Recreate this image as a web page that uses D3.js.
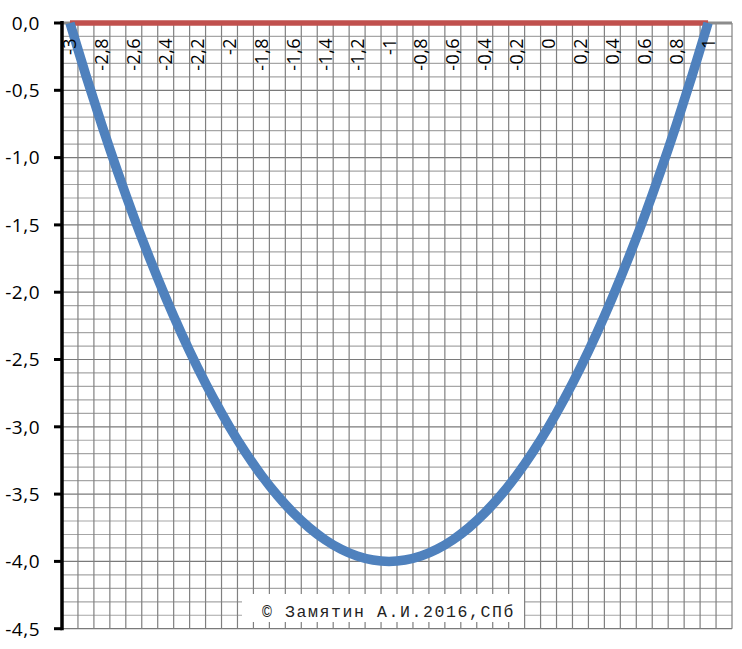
<!DOCTYPE html>
<html>
<head>
<meta charset="utf-8">
<script src="https://cdn.jsdelivr.net/npm/d3@7"></script>
<style>
  html, body { margin: 0; padding: 0; background: #ffffff; }
  svg { display: block; }
</style>
</head>
<body>
<svg id="chart" width="742" height="649"></svg>
<script>
// ---- data ----
const categories = [-3, -2.9, -2.8, -2.7, -2.6, -2.5, -2.4, -2.3, -2.2, -2.1,
  -2, -1.9, -1.8, -1.7, -1.6, -1.5, -1.4, -1.3, -1.2, -1.1,
  -1, -0.9, -0.8, -0.7, -0.6, -0.5, -0.4, -0.3, -0.2, -0.1,
  0, 0.1, 0.2, 0.3, 0.4, 0.5, 0.6, 0.7, 0.8, 0.9, 1, 1.1];
const parabolaValues = [0, -0.39, -0.76, -1.11, -1.44, -1.75, -2.04, -2.31, -2.56, -2.79,
  -3, -3.19, -3.36, -3.51, -3.64, -3.75, -3.84, -3.91, -3.96, -3.99,
  -4, -3.99, -3.96, -3.91, -3.84, -3.75, -3.64, -3.51, -3.36, -3.19,
  -3, -2.79, -2.56, -2.31, -2.04, -1.75, -1.44, -1.11, -0.76, -0.39, 0];
const zeroValues = [0, 0, 0, 0, 0, 0, 0, 0, 0, 0, 0, 0, 0, 0, 0, 0, 0, 0, 0, 0, 0,
  0, 0, 0, 0, 0, 0, 0, 0, 0, 0, 0, 0, 0, 0, 0, 0, 0, 0, 0, 0];
const xTickCats = [-3, -2.8, -2.6, -2.4, -2.2, -2, -1.8, -1.6, -1.4, -1.2, -1,
  -0.8, -0.6, -0.4, -0.2, 0, 0.2, 0.4, 0.6, 0.8, 1];
const xTickLabels = ["-3", "-2,8", "-2,6", "-2,4", "-2,2", "-2", "-1,8", "-1,6", "-1,4", "-1,2", "-1",
  "-0,8", "-0,6", "-0,4", "-0,2", "0", "0,2", "0,4", "0,6", "0,8", "1"];
const yTicks = [0, -0.5, -1, -1.5, -2, -2.5, -3, -3.5, -4, -4.5];
const yTickLabels = ["0,0", "-0,5", "-1,0", "-1,5", "-2,0", "-2,5", "-3,0", "-3,5", "-4,0", "-4,5"];
const yMinorStep = 0.1;
const watermark = "\u00A9 Замятин А.И.2016,СПб";

// ---- layout ----
const pL = 62, pR = 732, pT = 23, pB = 628.7;
const svg = d3.select("#chart");

const x = d3.scaleBand().domain(categories.map(String)).range([pL, pR]).padding(0);
const bw = x.bandwidth();
const xc = c => x(String(c)) + bw / 2;
const y = d3.scaleLinear().domain([-4.5, 0]).range([pB, pT]);

// ---- grid ----
const grid = svg.append("g");
const minorY = d3.range(0, 46).map(i => -i * yMinorStep);
grid.selectAll("line.hy").data(minorY).enter().append("line")
  .attr("x1", pL).attr("x2", pR)
  .attr("y1", d => y(d)).attr("y2", d => y(d))
  .attr("stroke", (d, i) => i % 5 === 0 ? "#7a7a7a" : "#a6a6a6")
  .attr("stroke-width", 1.2);
grid.selectAll("line.vx").data(categories).enter().append("line")
  .attr("x1", d => x(String(d)) + bw).attr("x2", d => x(String(d)) + bw)
  .attr("y1", pT).attr("y2", pB)
  .attr("stroke", "#808080")
  .attr("stroke-width", 1.2);

// watermark background
svg.append("rect").attr("x", 242).attr("y", 594).attr("width", 282).attr("height", 28)
  .attr("fill", "#ffffff");
svg.append("text").attr("x", 262).attr("y", 617)
  .attr("font-family", "'Liberation Mono', 'DejaVu Sans Mono', monospace")
  .attr("font-size", 16.5).attr("letter-spacing", 1.6)
  .attr("fill", "#222").text(watermark);

// x axis line (gray) at y=0
svg.append("line").attr("x1", pL).attr("x2", pR)
  .attr("y1", y(0)).attr("y2", y(0))
  .attr("stroke", "#8c8c8c").attr("stroke-width", 3);

// ---- series ----
const line = d3.line()
  .x((d, i) => xc(categories[i]))
  .y(d => y(d));
svg.append("path").datum(zeroValues)
  .attr("d", line)
  .attr("fill", "none").attr("stroke", "#C0504D").attr("stroke-width", 5.5);

svg.append("clipPath").attr("id", "plotclip").append("rect")
  .attr("x", pL).attr("y", pT - 3).attr("width", pR - pL).attr("height", pB - pT + 3);
svg.append("path").datum(parabolaValues)
  .attr("clip-path", "url(#plotclip)")
  .attr("d", line.curve(d3.curveCatmullRom.alpha(0.5)))
  .attr("fill", "none").attr("stroke", "#4F81BD").attr("stroke-width", 9.5)
  .attr("stroke-linejoin", "round");

// ---- y axis ----
svg.append("line").attr("x1", pL).attr("x2", pL)
  .attr("y1", pT - 2).attr("y2", pB + 1.5)
  .attr("stroke", "#000").attr("stroke-width", 3.5);
svg.selectAll("line.yt").data(yTicks).enter().append("line")
  .attr("x1", 54).attr("x2", pL).attr("y1", d => y(d)).attr("y2", d => y(d))
  .attr("stroke", "#000").attr("stroke-width", 3);
svg.selectAll("text.yl").data(yTicks).enter().append("text")
  .attr("x", 40).attr("y", d => y(d)).attr("dy", "0.36em")
  .attr("text-anchor", "end")
  .attr("font-family", "'Open Sans', sans-serif").attr("font-size", 19)
  .attr("letter-spacing", 0.5)
  .attr("fill", "#000")
  .text((d, i) => yTickLabels[i]);

// ---- x tick labels (rotated) ----
svg.selectAll("text.xl").data(xTickCats).enter().append("text")
  .attr("transform", d => `translate(${xc(d)},38) rotate(-90)`)
  .attr("dy", "0.36em")
  .attr("text-anchor", "end")
  .attr("font-family", "'Open Sans', sans-serif").attr("font-size", 18)
  .attr("letter-spacing", 0.4)
  .attr("fill", "#000")
  .text((d, i) => xTickLabels[i]);
</script>
</body>
</html>
